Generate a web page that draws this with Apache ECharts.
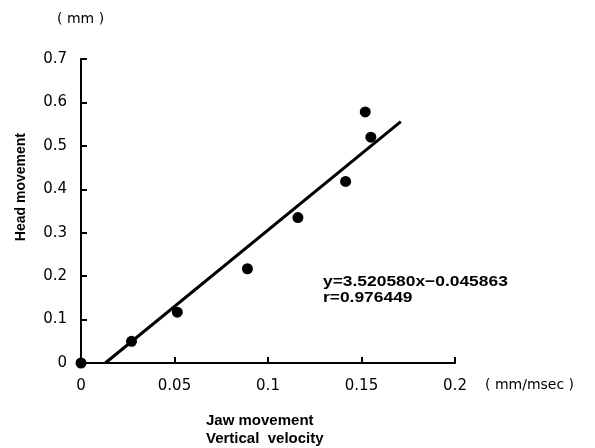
<!DOCTYPE html>
<html>
<head>
<meta charset="utf-8">
<script src="https://cdn.jsdelivr.net/npm/echarts@6/dist/echarts.min.js"></script>
<style>
html,body{margin:0;padding:0;background:#fff;}
#chart{width:595px;height:448px;}
</style>
</head>
<body>
<div id="chart"></div>
<script>
// Observed data points (Jaw vertical velocity mm/msec, Head movement mm)
var jawVelocity = [0, 0.027, 0.0515, 0.089, 0.116, 0.1415, 0.152, 0.155];
var headMovement = [0, 0.05, 0.117, 0.217, 0.335, 0.418, 0.578, 0.52];
// Regression line end points as drawn
var fitX = [0.013, 0.171];
var fitY = [0.0, 0.556];
var xTicks = [0, 0.05, 0.1, 0.15, 0.2];
var yTicks = [0, 0.1, 0.2, 0.3, 0.4, 0.5, 0.6, 0.7];
var equationText = 'y=3.520580x\u22120.045863';
var rText = 'r=0.976449';

var FONT = '"DejaVu Sans", "Liberation Sans", Arial, sans-serif';
var BFONT = '"Liberation Sans", Arial, sans-serif';
var chart = echarts.init(document.getElementById('chart'));
var option = {
  animation: false,
  backgroundColor: '#ffffff',
  grid: {left: 81, right: 140, top: 59, bottom: 85},
  xAxis: {
    type: 'value', min: 0, max: 0.2, interval: 0.05,
    axisLine: {show: true, lineStyle: {color: '#000', width: 2}},
    axisTick: {show: true, inside: true, length: 6, lineStyle: {color: '#000', width: 2}},
    axisLabel: {color: '#000', fontSize: 15, fontFamily: FONT, margin: 16,
      formatter: function (v) { return String(+v.toFixed(2)); }},
    splitLine: {show: false}
  },
  yAxis: {
    type: 'value', min: 0, max: 0.7, interval: 0.1,
    axisLine: {show: true, lineStyle: {color: '#000', width: 2}},
    axisTick: {show: true, inside: true, length: 6, lineStyle: {color: '#000', width: 2}},
    axisLabel: {color: '#000', fontSize: 15, fontFamily: FONT, margin: 14,
      formatter: function (v) { return String(+v.toFixed(1)); }},
    splitLine: {show: false}
  },
  graphic: [
    {type: 'text', left: 57, top: 12, style: {text: '( mm )', font: '14px ' + FONT, fill: '#000'}},
    {type: 'text', left: 485, top: 378, style: {text: '( mm/msec )', font: '14px ' + FONT, fill: '#000'}},
    {type: 'text', left: 206, top: 413, style: {text: 'Jaw movement', font: 'bold 15px ' + BFONT, fill: '#000'}},
    {type: 'text', left: 206, top: 431, style: {text: 'Vertical  velocity', font: 'bold 15px ' + BFONT, fill: '#000'}},
    {type: 'text', left: 14, top: 133, rotation: Math.PI / 2, originX: 0, originY: 0,
      style: {text: 'Head movement', font: 'bold 14px ' + BFONT, fill: '#000'}},
    {type: 'text', left: 323, top: 274, scaleX: 1.16, style: {text: equationText, font: 'bold 15px ' + BFONT, fill: '#000'}},
    {type: 'text', left: 323, top: 290, scaleX: 1.16, style: {text: rText, font: 'bold 15px ' + BFONT, fill: '#000'}}
  ],
  series: [
    {
      type: 'line',
      data: fitX.map(function (x, i) { return [x, fitY[i]]; }),
      symbol: 'none',
      lineStyle: {color: '#000', width: 3},
      z: 2
    },
    {
      type: 'scatter',
      data: jawVelocity.map(function (x, i) { return [x, headMovement[i]]; }),
      symbol: 'circle',
      symbolSize: 11,
      itemStyle: {color: '#000', opacity: 1},
      z: 3
    }
  ]
};
chart.setOption(option);
</script>
</body>
</html>
